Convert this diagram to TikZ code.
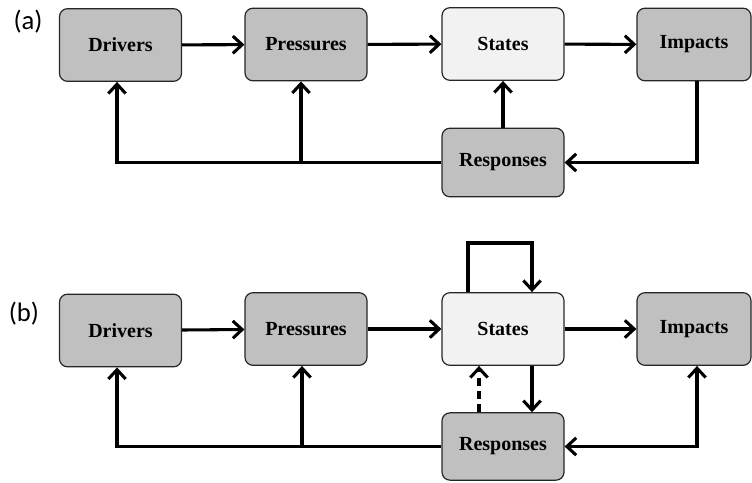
\documentclass[tikz,border=0pt]{standalone}
\usepackage{fontspec}
\setmainfont{Liberation Serif}
\newfontfamily\labelfont{Carlito}
\usetikzlibrary{arrows.meta,calc}
\definecolor{boxgray}{HTML}{C0C0C0}
\definecolor{boxlight}{HTML}{F2F2F2}
\begin{document}
\begin{tikzpicture}[x=0.75pt,y=-0.75pt,
  dbox/.style={draw=black!85,line width=0.9pt,rounded corners=6pt,fill=boxgray,
    minimum width=91.5pt,minimum height=54.5pt,inner sep=0pt,
    font=\fontsize{15}{17}\selectfont\bfseries},
  lbox/.style={dbox,fill=boxlight},
  tip/.tip={Straight Barb[length=7pt,width=13pt,line width=2.3pt]},
  conn/.style={line width=2.3pt,-tip},
  dconn/.style={conn,dash pattern=on 6pt off 4pt},
  panel/.style={font=\labelfont\fontsize{20}{24}\selectfont}]
\useasboundingbox (0,0) rectangle (752,482);
% ---------- (a) ----------
\node[panel] (la) at (28,22) {(a)};
\node[dbox] (Da) at (120.5,45) {Drivers};
\node[dbox] (Pa) at (306,44.5) {Pressures};
\node[lbox] (Sa) at (503,44) {States};
\node[dbox,minimum width=85.5pt] (Ia) at (694,44.5) {Impacts};
\node[dbox,minimum height=51.5pt] (Ra) at (503,162.5) {Responses};
\draw[conn] (Da) -- (Pa);
\draw[conn] (Pa) -- (Sa);
\draw[conn] (Sa) -- (Ia);
\draw[conn] (Ra) -- (Sa);
\draw[conn] (Ia.south -| 697,0) |- (Ra.east);
\draw[conn] (Ra.west) -| (Da.south -| 117,0);
\coordinate (ja) at (301,162.5);
\draw[conn] (ja) -- (Pa.south -| ja);
% ---------- (b) ----------
\node[panel] (lb) at (24,314) {(b)};
\node[dbox] (Db) at (120.5,330.5) {Drivers};
\node[dbox] (Pb) at (306,329) {Pressures};
\node[lbox] (Sb) at (503,329) {States};
\node[dbox,minimum width=85.5pt] (Ib) at (694,329) {Impacts};
\node[dbox,minimum height=50.5pt] (Rb) at (503,446.5) {Responses};
\draw[conn] (Db) -- (Pb);
\draw[conn] (Pb) -- (Sb);
\draw[conn] (Sb) -- (Ib);
\coordinate (lt) at (468,243);
\coordinate (rt) at (532,243);
\draw[conn,line join=miter] (Sb.north -| lt) -- (lt) -- (rt) -- (Sb.north -| rt);
\draw[conn] (Sb.south -| rt) -- (Rb.north -| rt);
\draw[dconn] (Rb.north -| 479,0) -- (Sb.south -| 479,0);
\draw[conn,tip-tip] (Rb.east) -| (Ib.south -| 697,0);
\draw[conn] (Rb.west) -| (Db.south -| 117,0);
\coordinate (jb) at (302,446.5);
\draw[conn] (jb) -- (Pb.south -| jb);
\end{tikzpicture}
\end{document}
